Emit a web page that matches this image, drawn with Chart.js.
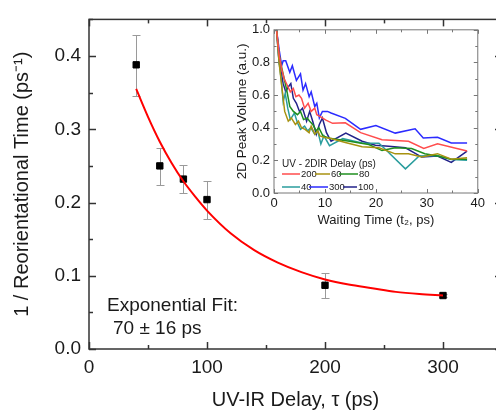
<!DOCTYPE html>
<html>
<head>
<meta charset="utf-8">
<script src="https://cdn.jsdelivr.net/npm/chart.js@4.4.0/dist/chart.umd.min.js"></script>
<style>
  html, body { margin: 0; padding: 0; background: #fff; overflow: hidden; }
  #wrap { position: relative; width: 496px; height: 413px; overflow: hidden; }
  #mainChart { position: absolute; left: 0; top: 0; }
  #insetChart { position: absolute; left: 232px; top: 18px; }
</style>
</head>
<body>
<div id="wrap">
  <canvas id="mainChart" width="512" height="413"></canvas>
  <canvas id="insetChart" width="256" height="212"></canvas>
</div>
<script>
// main panel: rate vs UV-IR delay
const delays = [40, 60, 80, 100, 200, 300];
const rates = [0.388, 0.250, 0.232, 0.204, 0.087, 0.073];
const rateLow = [0.345, 0.224, 0.213, 0.177, 0.069, 0.071];
const rateHigh = [0.429, 0.274, 0.251, 0.229, 0.104, 0.075];

// exponential fit curve
const fitX = [40, 50, 60, 70, 80, 90, 100, 120, 140, 160, 180, 200, 220, 240, 260, 280, 300];
const fitY = [0.355, 0.317, 0.283, 0.254, 0.229, 0.208, 0.189, 0.158, 0.135, 0.118, 0.105, 0.095, 0.088, 0.083, 0.078, 0.075, 0.073];

const xTicksMain = [0, 100, 200, 300];
const yTicksMain = [0, 0.1, 0.2, 0.3, 0.4];

// inset: 2D peak volume vs waiting time, one pair per UV-2DIR delay
const t200 = [0.5, 1.0, 1.5, 2.0, 2.6, 3.2, 3.8, 4.3, 4.9, 5.4, 6.0, 6.7, 7.3, 8.0, 8.4, 9.0, 10.2, 11.5, 14, 17, 21.2, 26.4, 29.4, 32.1, 37.9];
const v200 = [1.0, 0.85, 0.76, 0.70, 0.66, 0.62, 0.64, 0.59, 0.60, 0.58, 0.52, 0.55, 0.50, 0.52, 0.48, 0.47, 0.447, 0.427, 0.43, 0.37, 0.327, 0.317, 0.273, 0.301, 0.257];

const t60 = [0.5, 1.0, 1.5, 2.1, 2.8, 3.4, 4.2, 4.8, 5.4, 6.1, 6.9, 7.3, 8.0, 8.6, 9.0, 10.0, 11, 14, 17.3, 20.6, 23.8, 26.4, 29, 32.1, 34.8, 37.9];
const v60 = [1.0, 0.80, 0.66, 0.50, 0.44, 0.46, 0.42, 0.44, 0.40, 0.39, 0.37, 0.41, 0.36, 0.38, 0.35, 0.34, 0.335, 0.31, 0.283, 0.277, 0.24, 0.24, 0.22, 0.241, 0.207, 0.216];

const t80 = [0.5, 1.0, 1.5, 2.0, 2.5, 3.1, 3.8, 4.6, 5.2, 5.8, 6.5, 7.0, 7.6, 8.3, 8.8, 9.6, 10.9, 14.8, 18.6, 21.2, 23.8, 27.0, 29.6, 32.1, 34.8, 37.9];
const v80 = [1.0, 0.85, 0.77, 0.70, 0.63, 0.53, 0.50, 0.48, 0.50, 0.45, 0.46, 0.44, 0.42, 0.38, 0.40, 0.35, 0.335, 0.317, 0.297, 0.26, 0.277, 0.273, 0.241, 0.227, 0.207, 0.207];

const t40 = [0.5, 1.0, 1.4, 1.8, 2.2, 2.7, 3.2, 4.0, 4.6, 5.2, 6.0, 6.6, 7.2, 8.0, 8.6, 9.2, 9.8, 10.9, 13.5, 17.3, 20.6, 21.9, 25.8, 28.5, 32.1, 34.8, 37.9];
const v40 = [1.0, 0.80, 0.70, 0.56, 0.61, 0.52, 0.45, 0.49, 0.43, 0.39, 0.41, 0.38, 0.40, 0.36, 0.38, 0.30, 0.35, 0.29, 0.333, 0.307, 0.305, 0.267, 0.148, 0.227, 0.23, 0.205, 0.20];

const t300 = [0.5, 1.0, 1.5, 1.8, 2.3, 3.1, 3.6, 4.4, 5.2, 5.7, 6.2, 6.9, 7.3, 8.0, 8.4, 8.9, 9.5, 10.5, 11.2, 14, 17, 20, 23.8, 27.7, 29.3, 32.1, 34.8, 37.9];
const v300 = [1.0, 0.88, 0.78, 0.81, 0.81, 0.74, 0.78, 0.69, 0.73, 0.63, 0.67, 0.59, 0.62, 0.53, 0.55, 0.46, 0.50, 0.50, 0.49, 0.457, 0.39, 0.413, 0.367, 0.393, 0.337, 0.341, 0.307, 0.307];

const t100 = [0.5, 1.0, 1.4, 1.8, 2.3, 2.8, 3.3, 3.8, 4.4, 5.0, 5.6, 6.4, 7.0, 7.6, 8.3, 8.9, 9.5, 10.3, 11.2, 14.1, 17.3, 19.9, 22.5, 25.8, 29.0, 32.1, 34.8, 37.9];
const v100 = [1.0, 0.80, 0.74, 0.67, 0.62, 0.65, 0.67, 0.58, 0.55, 0.50, 0.52, 0.44, 0.50, 0.44, 0.36, 0.42, 0.46, 0.37, 0.317, 0.367, 0.317, 0.293, 0.287, 0.277, 0.22, 0.227, 0.187, 0.257];

const xTicksInset = [0, 10, 20, 30, 40];
const yTicksInset = [0, 0.2, 0.4, 0.6, 0.8, 1.0];

const textColor = '#1a1a1a';

function pts(xs, ys) {
  return xs.map((v, i) => ({ x: v, y: ys[i] }));
}

// box frame with inward major/minor ticks on all four sides
const frameTicks = {
  id: 'frameTicks',
  afterDraw(chart, args, o) {
    const { ctx, chartArea: a, scales: { x, y } } = chart;
    ctx.save();
    ctx.strokeStyle = o.color;
    ctx.lineWidth = o.width;
    ctx.strokeRect(a.left, a.top, a.right - a.left, a.bottom - a.top);
    const line = (x1, y1, x2, y2) => {
      ctx.beginPath(); ctx.moveTo(x1, y1); ctx.lineTo(x2, y2); ctx.stroke();
    };
    const isMajor = (v, m) => Math.abs(v / m - Math.round(v / m)) < 1e-6;
    for (let v = x.min; v <= x.max + 1e-9; v += o.xStep) {
      const len = isMajor(v, o.xMajor) ? o.major : o.minor;
      const px = Math.round(x.getPixelForValue(v)) + 0.5;
      line(px, a.bottom, px, a.bottom - len);
      line(px, a.top, px, a.top + len);
    }
    for (let v = y.min; v <= y.max + 1e-9; v += o.yStep) {
      const len = isMajor(v, o.yMajor) ? o.major : o.minor;
      const py = Math.round(y.getPixelForValue(v)) + 0.5;
      line(a.left, py, a.left + len, py);
      line(a.right, py, a.right - len, py);
    }
    ctx.restore();
  }
};

const errorBars = {
  id: 'errorBars',
  beforeDatasetsDraw(chart) {
    const { ctx, scales: { x, y } } = chart;
    ctx.save();
    ctx.strokeStyle = '#9a9a9a';
    ctx.lineWidth = 1;
    delays.forEach((d, i) => {
      const px = Math.round(x.getPixelForValue(d)) + 0.5;
      const top = Math.round(y.getPixelForValue(rateHigh[i])) + 0.5;
      const bot = Math.round(y.getPixelForValue(rateLow[i])) + 0.5;
      ctx.beginPath();
      ctx.moveTo(px, top); ctx.lineTo(px, bot);
      ctx.moveTo(px - 4, top); ctx.lineTo(px + 4, top);
      ctx.moveTo(px - 4, bot); ctx.lineTo(px + 4, bot);
      ctx.stroke();
    });
    ctx.restore();
  }
};

const fitLabel = {
  id: 'fitLabel',
  afterDraw(chart) {
    const ctx = chart.ctx;
    ctx.save();
    ctx.fillStyle = textColor;
    ctx.font = '19px "Liberation Sans", Arial, sans-serif';
    ctx.textBaseline = 'middle';
    ctx.fillText('Exponential Fit:', 107, 306);
    ctx.fillText('70 \u00b1 16 ps', 113, 329);
    ctx.restore();
  }
};

new Chart(document.getElementById('mainChart'), {
  type: 'scatter',
  data: {
    datasets: [
      {
        data: pts(fitX, fitY),
        showLine: true,
        borderColor: '#ff0000',
        borderWidth: 2,
        pointRadius: 0,
        cubicInterpolationMode: 'monotone'
      },
      {
        data: pts(delays, rates),
        pointStyle: 'rect',
        pointRadius: 4.5,
        backgroundColor: '#000',
        borderColor: '#000',
        borderWidth: 1
      }
    ]
  },
  options: {
    responsive: false,
    animation: false,
    events: [],
    layout: { padding: { top: 14, right: 10, left: 0, bottom: 0 } },
    plugins: {
      legend: { display: false },
      tooltip: { enabled: false },
      frameTicks: { color: '#333', width: 1.5, xStep: 50, xMajor: 100, yStep: 0.05, yMajor: 0.1, major: 7, minor: 4 }
    },
    scales: {
      x: {
        type: 'linear',
        min: 0,
        max: 350,
        afterBuildTicks: s => { s.ticks = xTicksMain.map(v => ({ value: v })); },
        afterFit: s => { s.height = 64; },
        grid: { display: false, drawTicks: false },
        border: { display: false },
        ticks: { padding: 7, color: textColor, font: { size: 19, family: '"Liberation Sans", Arial, sans-serif' } },
        title: {
          display: true,
          text: 'UV-IR Delay, \u03c4 (ps)',
          color: textColor,
          padding: { top: 0, bottom: 1 },
          font: { size: 20, family: '"Liberation Sans", Arial, sans-serif' }
        }
      },
      y: {
        min: 0,
        max: 0.45,
        afterBuildTicks: s => { s.ticks = yTicksMain.map(v => ({ value: v })); },
        afterFit: s => { s.width = 89; },
        grid: { display: false, drawTicks: false },
        border: { display: false },
        ticks: {
          padding: 8,
          color: textColor,
          font: { size: 19, family: '"Liberation Sans", Arial, sans-serif' },
          callback: v => v.toFixed(1)
        },
        title: {
          display: true,
          text: '1 / Reorientational Time (ps\u207b\u00b9)',
          color: textColor,
          padding: { top: 10, bottom: 0 },
          font: { size: 20, family: '"Liberation Sans", Arial, sans-serif' }
        }
      }
    }
  },
  plugins: [frameTicks, errorBars, fitLabel]
});

// inset legend: title plus two rows of line + label
const legendRows = [
  { y: 156, items: [['200', 50, 68], ['60', 83, 98], ['80', 107, 126]] },
  { y: 169, items: [['40', 50, 68], ['300', 77, 96], ['100', 111, 125]] }
];

const insetLegend = {
  id: 'insetLegend',
  afterDraw(chart) {
    const ctx = chart.ctx;
    const colorOf = {};
    chart.data.datasets.forEach(ds => { colorOf[ds.label] = ds.borderColor; });
    ctx.save();
    ctx.fillStyle = textColor;
    ctx.textBaseline = 'middle';
    ctx.font = '10px "Liberation Sans", Arial, sans-serif';
    ctx.fillText('UV - 2DIR Delay (ps)', 50, 146);
    ctx.font = '9.5px "Liberation Sans", Arial, sans-serif';
    ctx.lineWidth = 1.5;
    legendRows.forEach(row => {
      row.items.forEach(([label, x0, x1]) => {
        ctx.strokeStyle = colorOf[label];
        ctx.beginPath();
        ctx.moveTo(x0, row.y);
        ctx.lineTo(x1, row.y);
        ctx.stroke();
        ctx.fillText(label, x1 + 1, row.y);
      });
    });
    ctx.restore();
  }
};

const insetSeries = [
  ['200', t200, v200, '#ff4d4d'],
  ['60', t60, v60, '#a89210'],
  ['80', t80, v80, '#1f8f1f'],
  ['40', t40, v40, '#2a9d9d'],
  ['300', t300, v300, '#2b2bff'],
  ['100', t100, v100, '#22228a']
];

new Chart(document.getElementById('insetChart'), {
  type: 'scatter',
  data: {
    datasets: insetSeries.map(([label, xs, ys, color]) => ({
      label: label,
      data: pts(xs, ys),
      showLine: true,
      borderColor: color,
      backgroundColor: color,
      borderWidth: 1.5,
      pointRadius: 0
    }))
  },
  options: {
    responsive: false,
    animation: false,
    events: [],
    layout: { padding: { top: 8, right: 8, left: 0, bottom: 0 } },
    plugins: {
      legend: { display: false },
      tooltip: { enabled: false },
      frameTicks: { color: '#777', width: 1, xStep: 5, xMajor: 10, yStep: 0.1, yMajor: 0.2, major: 4, minor: 2.5 }
    },
    scales: {
      x: {
        type: 'linear',
        min: 0,
        max: 40,
        afterBuildTicks: s => { s.ticks = xTicksInset.map(v => ({ value: v })); },
        afterFit: s => { s.height = 37; },
        grid: { display: false, drawTicks: false },
        border: { display: false },
        ticks: { padding: 3, color: textColor, font: { size: 13, family: '"Liberation Sans", Arial, sans-serif' } },
        title: {
          display: true,
          text: 'Waiting Time (t\u2082, ps)',
          color: textColor,
          padding: { top: 0, bottom: 2 },
          font: { size: 13, family: '"Liberation Sans", Arial, sans-serif' }
        }
      },
      y: {
        min: 0,
        max: 1,
        afterBuildTicks: s => { s.ticks = yTicksInset.map(v => ({ value: v })); },
        afterFit: s => { s.width = 42; },
        grid: { display: false, drawTicks: false },
        border: { display: false },
        ticks: {
          padding: 4,
          color: textColor,
          font: { size: 13, family: '"Liberation Sans", Arial, sans-serif' },
          callback: v => v.toFixed(1)
        },
        title: {
          display: true,
          text: '2D Peak Volume (a.u.)',
          color: textColor,
          padding: { top: 2, bottom: 0 },
          font: { size: 13.5, family: '"Liberation Sans", Arial, sans-serif' }
        }
      }
    }
  },
  plugins: [frameTicks, insetLegend]
});
</script>
</body>
</html>
